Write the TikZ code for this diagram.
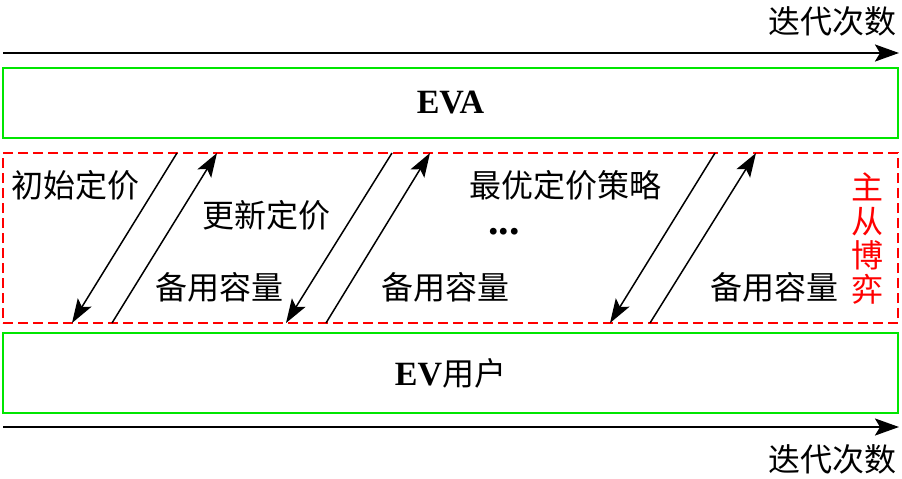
\documentclass[tikz,border=0pt]{standalone}
\usepackage{fontspec}
\setmainfont{Liberation Serif}
\newfontfamily\cjk{Noto Sans CJK SC}
\usetikzlibrary{arrows.meta}
\definecolor{boxgreen}{RGB}{0,230,0}
\definecolor{gamered}{RGB}{255,0,0}
\tikzset{
  axisarrow/.style={line width=2.4pt,-{Stealth[length=24pt,width=17pt,inset=5pt]}},
  flowarrow/.style={line width=1.5pt,-{Stealth[length=24pt,width=16pt,inset=5pt]}},
  greenbox/.style={draw=boxgreen,line width=2pt,minimum width=895pt,minimum height=70pt,inner sep=0pt},
  gamebox/.style={draw=gamered,line width=1.5pt,dash pattern=on 10pt off 5pt,minimum width=895pt,minimum height=170pt,inner sep=0pt},
  cjklabel/.style={font=\cjk\fontsize{32}{34}\selectfont,inner sep=0pt},
  boxlabel/.style={font=\bfseries\fontsize{34}{36}\selectfont,inner sep=0pt}
}
\begin{document}
\begin{tikzpicture}[x=1pt,y=-1pt]
\useasboundingbox (0,0) rectangle (902,479);
% iteration axes
\coordinate (ax1s) at (3,53);
\coordinate (ax1e) at (899,53);
\coordinate (ax2s) at (3,427);
\coordinate (ax2e) at (899,427);
\draw[axisarrow] (ax1s) -- (ax1e);
\draw[axisarrow] (ax2s) -- (ax2e);
\node[cjklabel] (iter1) at (832,21) {迭代次数};
\node[cjklabel] (iter2) at (832,459) {迭代次数};
% boxes
\node[greenbox,boxlabel] (eva) at (450.5,103) {EVA};
\node[gamebox] (game) at (450.5,238) {};
\node[greenbox,minimum height=80pt] (ev) at (450.5,373) {\bfseries\fontsize{34}{36}\selectfont EV{\cjk\mdseries\fontsize{32}{34}\selectfont 用户}};
% arrow end points
\coordinate (d1t) at (177,153);
\coordinate (d1b) at (72,323);
\coordinate (u1b) at (112,323);
\coordinate (u1t) at (217,153);
\coordinate (d2t) at (392,153);
\coordinate (d2b) at (286,323);
\coordinate (u2b) at (326,323);
\coordinate (u2t) at (430,153);
\coordinate (d3t) at (715,153);
\coordinate (d3b) at (610,323);
\coordinate (u3b) at (650,323);
\coordinate (u3t) at (756,153);
\draw[flowarrow] (d1t) -- (d1b);
\draw[flowarrow] (u1b) -- (u1t);
\draw[flowarrow] (d2t) -- (d2b);
\draw[flowarrow] (u2b) -- (u2t);
\draw[flowarrow] (d3t) -- (d3b);
\draw[flowarrow] (u3b) -- (u3t);
% labels
\node[cjklabel] (init) at (76,185) {初始定价};
\node[cjklabel] (upd) at (266,215) {更新定价};
\node[cjklabel] (cap1) at (219,287) {备用容量};
\node[cjklabel] (cap2) at (445,287) {备用容量};
\node[cjklabel] (opt) at (565,185) {最优定价策略};
\node[inner sep=0pt,font=\bfseries\fontsize{42}{42}\selectfont] (dots) at (504,232) {...};
\node[cjklabel] (cap3) at (774,287) {备用容量};
\node[cjklabel,text=gamered,align=center] (slg) at (867,239) {主\\从\\博\\弈};
\end{tikzpicture}
\end{document}
